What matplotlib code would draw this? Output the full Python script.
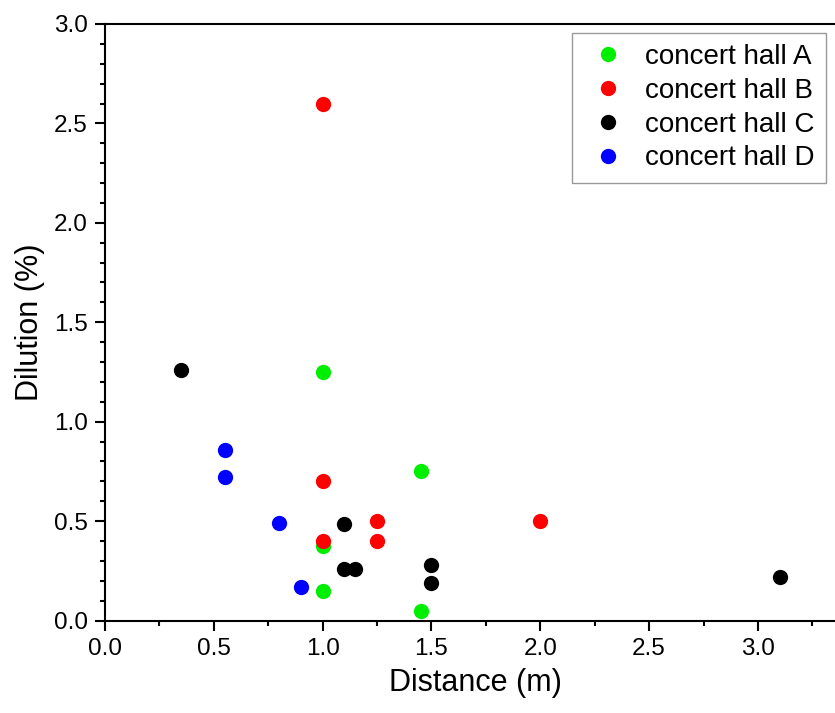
import numpy as np
import matplotlib.pyplot as plt
import matplotlib as mpl
from matplotlib.ticker import MultipleLocator, FormatStrFormatter

mpl.rcParams['font.family'] = ['Liberation Sans', 'DejaVu Sans']
mpl.rcParams['xtick.direction'] = 'out'
mpl.rcParams['ytick.direction'] = 'out'

# Distance (m) and dilution (%) for each hall
hall_a_x = [1.0, 1.45, 1.0, 1.0, 1.45]
hall_a_y = [1.25, 0.75, 0.375, 0.15, 0.05]

hall_b_x = [1.0, 1.0, 1.0, 1.25, 1.25, 2.0]
hall_b_y = [2.60, 0.70, 0.40, 0.50, 0.40, 0.50]

hall_c_x = [0.35, 1.10, 1.10, 1.15, 1.5, 1.5, 3.1]
hall_c_y = [1.26, 0.485, 0.26, 0.26, 0.28, 0.19, 0.22]

hall_d_x = [0.55, 0.55, 0.80, 0.90]
hall_d_y = [0.86, 0.72, 0.49, 0.17]

series = [
    ("concert hall A", hall_a_x, hall_a_y, '#00ee00'),
    ("concert hall B", hall_b_x, hall_b_y, '#ff0000'),
    ("concert hall C", hall_c_x, hall_c_y, '#000000'),
    ("concert hall D", hall_d_x, hall_d_y, '#0000ff'),
]

fig = plt.figure(figsize=(8.35, 7.13), dpi=100)
ax = fig.add_axes([105/835, 92.5/713, 740/835, 596.5/713])

for label, xs, ys, col in series:
    ax.plot(xs, ys, 'o', color=col, ms=11, mec='none', label=label)

ax.set_xlim(0, 3.4)
ax.set_ylim(0, 3.0)
ax.xaxis.set_major_locator(MultipleLocator(0.5))
ax.xaxis.set_minor_locator(MultipleLocator(0.25))
ax.yaxis.set_major_locator(MultipleLocator(0.5))
ax.yaxis.set_minor_locator(MultipleLocator(0.1))
ax.xaxis.set_major_formatter(FormatStrFormatter('%.1f'))
ax.yaxis.set_major_formatter(FormatStrFormatter('%.1f'))

for s in ax.spines.values():
    s.set_linewidth(1.5)
ax.tick_params(which='major', length=7.5, width=1.5, labelsize=17.5, pad=5)
ax.tick_params(which='minor', length=3.5, width=1.5)

ax.set_xlabel('Distance (m)', fontsize=22, labelpad=6)
ax.set_ylabel('Dilution (%)', fontsize=22, labelpad=6)

leg = ax.legend(loc='upper right', bbox_to_anchor=(826/835, 1 - 33/713),
                bbox_transform=fig.transFigure, borderaxespad=0,
                fontsize=20, fancybox=False, edgecolor='#808080',
                handletextpad=0.45, labelspacing=0.28, borderpad=0.4,
                handlelength=1.8)
leg.get_frame().set_linewidth(1.0)

fig.savefig('out.png', dpi=100)
